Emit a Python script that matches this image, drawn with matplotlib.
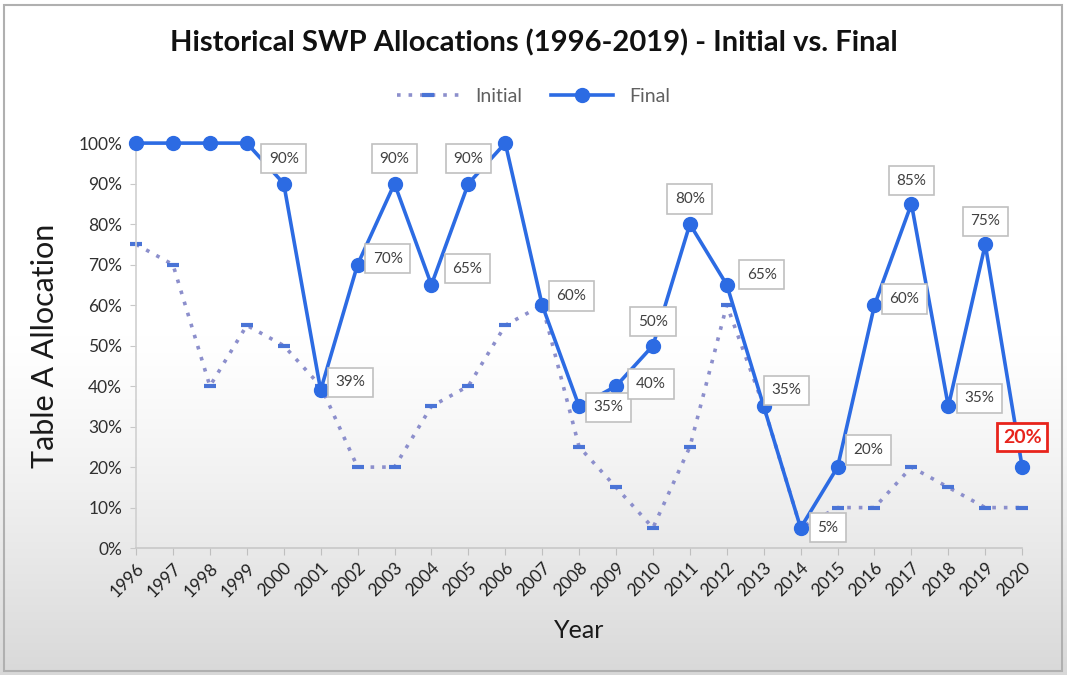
import numpy as np
import matplotlib.pyplot as plt
from matplotlib.ticker import PercentFormatter

years = list(range(1996, 2021))
initial = [75, 70, 40, 55, 50, 40, 20, 20, 35, 40, 55, 60, 25,
           15, 5, 25, 60, 35, 5, 10, 10, 20, 15, 10, 10]
final = [100, 100, 100, 100, 90, 39, 70, 90, 65, 90, 100, 60, 35,
         40, 50, 80, 65, 35, 5, 20, 60, 85, 35, 75, 20]

# label box centre relative to its point, in pixels (only labelled years)
label_pos = {2000: (0, 25), 2001: (30, 8), 2002: (30, 6), 2003: (0, 25),
             2004: (36, 16), 2005: (0, 25), 2007: (29, 9), 2008: (29, -1),
             2009: (35, 2), 2010: (0, 24), 2011: (0, 25), 2012: (35, 10),
             2013: (23, 16), 2014: (27, 0), 2015: (31, 17), 2016: (30, 6),
             2017: (0, 23), 2018: (31, 8), 2019: (0, 23), 2020: (0, 30)}


def main():
    plt.rcParams['font.family'] = ['Lato', 'DejaVu Sans']
    fig = plt.figure(figsize=(10.67, 6.75), dpi=100)

    # gradient background, white at the top to light grey at the bottom
    bg = fig.add_axes([0, 0, 1, 1], zorder=-10)
    rows = np.linspace(0, 1, 300)
    g = np.where(rows < 0.5, 1.0, 1.0 - 0.15 * ((rows - 0.5) / 0.5) ** 1.2)
    grad = g.reshape(-1, 1)
    bg.imshow(np.dstack([grad, grad, grad]), aspect='auto', extent=[0, 1, 0, 1])
    bg.set_xlim(0, 1)
    bg.set_ylim(0, 1)
    bg.axis('off')
    bg.add_patch(plt.Rectangle((0.004, 0.006), 0.991, 0.986, fill=False,
                               ec='#b0b0b0', lw=1.5, transform=bg.transAxes))

    ax = fig.add_axes([0.1275, 0.188, 0.8305, 0.6])
    ax.patch.set_alpha(0)

    ax.plot(years, initial, linestyle=(0, (1, 2.2)), color='#8c8fcc', lw=2.6,
            marker='_', ms=8, mew=3, mec='#4a74d6', label='Initial', clip_on=False)
    ax.plot(years, final, '-', color='#2c6be3', lw=2.6,
            marker='o', ms=10, label='Final', clip_on=False, zorder=3)

    for y, v in zip(years, final):
        if y not in label_pos:
            continue
        dx, dy = label_pos[y]
        if y == 2020:
            ax.annotate('%d%%' % v, (y, v), xytext=(dx * 0.72, dy * 0.72),
                        textcoords='offset points', ha='center', va='center',
                        fontsize=14, color='#e8241c', fontweight='bold',
                        bbox=dict(boxstyle='square,pad=0.3', fc='white',
                                  ec='#e8241c', lw=2), zorder=5)
        else:
            ax.annotate('%d%%' % v, (y, v), xytext=(dx * 0.72, dy * 0.72),
                        textcoords='offset points', ha='center', va='center',
                        fontsize=11, color='#404040',
                        bbox=dict(boxstyle='square,pad=0.5', fc='white',
                                  ec='#c0c0c0', lw=1.2), zorder=5)

    ax.set_xlim(1996, 2020)
    ax.set_ylim(0, 100)
    ax.set_xticks(years)
    ax.set_xticklabels([str(y) for y in years], rotation=45, ha='right',
                       rotation_mode='anchor', fontsize=12.5)
    ax.set_yticks(range(0, 101, 10))
    ax.yaxis.set_major_formatter(PercentFormatter(decimals=0))
    ax.tick_params(axis='y', length=4, color='#c8c8c8', labelsize=12.5, pad=6,
                   labelcolor='#303030')
    ax.tick_params(axis='x', length=5, color='#bfbfbf', labelcolor='#202020')
    for s in ['top', 'right']:
        ax.spines[s].set_visible(False)
    ax.spines['left'].set_color('#d0d0d0')
    ax.spines['bottom'].set_color('#c8c8c8')
    ax.spines['left'].set_linewidth(1.2)
    ax.spines['bottom'].set_linewidth(1.2)

    ax.set_ylabel('Table A Allocation', fontsize=22, color='#1a1a1a', labelpad=14)
    ax.set_xlabel('Year', fontsize=18, color='#1a1a1a', labelpad=14)

    fig.text(0.5, 0.937, 'Historical SWP Allocations (1996-2019) - Initial vs. Final',
             ha='center', va='center', fontsize=21, fontweight='bold', color='#111111')
    fig.legend(loc='center', bbox_to_anchor=(0.5, 0.857), ncol=2, frameon=False,
               fontsize=14, labelcolor='#606060', handlelength=3.2, columnspacing=1.5)

    plt.savefig('out.png', dpi=100)


if __name__ == '__main__':
    main()
